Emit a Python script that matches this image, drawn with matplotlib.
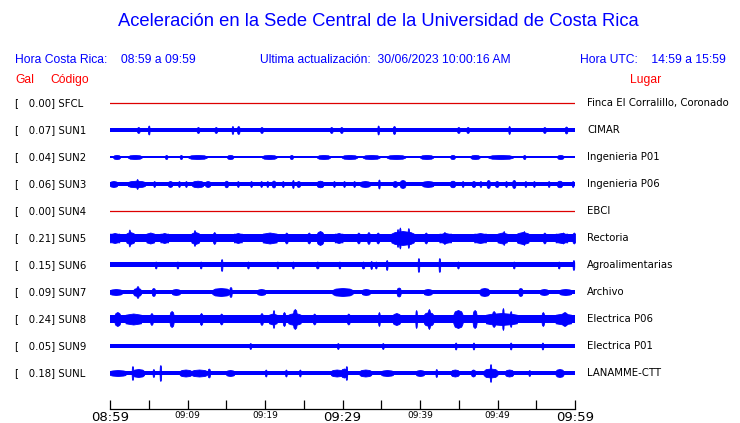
import numpy as np
import matplotlib
matplotlib.use("Agg")
import matplotlib.pyplot as plt
from matplotlib.transforms import blended_transform_factory

# estaciones, aceleracion maxima (Gal) y lugar
codigos = ["SFCL", "SUN1", "SUN2", "SUN3", "SUN4", "SUN5", "SUN6", "SUN7", "SUN8", "SUN9", "SUNL"]
gal = [0.00, 0.07, 0.04, 0.06, 0.00, 0.21, 0.15, 0.09, 0.24, 0.05, 0.18]
lugares = ["Finca El Corralillo, Coronado", "CIMAR", "Ingenieria P01", "Ingenieria P06", "EBCI",
           "Rectoria", "Agroalimentarias", "Archivo", "Electrica P06", "Electrica P01", "LANAMME-CTT"]

# semi-ancho del ruido de fondo de cada traza (px), 0 = sin señal
fondo = [0, 2.0, 0.6, 2.0, 0, 4.4, 2.5, 2.0, 4.3, 2.0, 2.0]

# picos: (minuto desde 08:59, ancho en min, semi-altura px)
picos = {
    "SUN1": [(3.5, 0.3, 3), (4.9, 0.2, 4.5), (11.2, 0.3, 3), (13.5, 0.3, 3), (15.7, 0.2, 4),
             (16.4, 0.3, 4), (19.4, 0.3, 3), (28.4, 0.3, 3), (29.7, 0.3, 3), (34.5, 0.2, 4.5),
             (36.5, 0.3, 4), (44.8, 0.3, 3), (46.0, 0.3, 3), (51.4, 0.2, 4), (55.9, 0.3, 3),
             (58.7, 0.3, 3.5)],
    "SUN2": [(0.4, 0.9, 2), (2.3, 1.8, 2), (7.1, 0.3, 2), (9.0, 0.3, 2), (10.1, 2.4, 2),
             (15.1, 0.8, 2), (19.6, 1.9, 2), (23.2, 0.4, 2), (26.7, 1.7, 2), (29.9, 2.0, 2),
             (32.6, 2.2, 2), (35.7, 2.4, 2), (40.0, 1.7, 2), (43.9, 0.6, 2), (46.5, 1.2, 2),
             (48.8, 3.2, 2), (53.3, 0.3, 2), (57.7, 0.8, 2)],
    "SUN3": [(0.0, 0.9, 3), (2.3, 2.2, 3.3), (3.4, 0.2, 5), (5.6, 0.2, 3), (7.5, 0.5, 3),
             (8.8, 0.2, 3), (9.7, 0.2, 3), (10.6, 1.4, 3.3), (12.3, 0.6, 3), (14.8, 0.4, 3.3),
             (16.4, 0.2, 3), (18.1, 0.2, 3), (19.4, 0.2, 3), (20.2, 0.2, 3), (20.9, 0.4, 3.5),
             (22.2, 0.2, 3), (23.5, 0.2, 4), (24.1, 0.4, 3), (26.7, 0.8, 3.3), (28.8, 0.2, 3),
             (30.1, 0.2, 3), (31.4, 0.2, 3), (32.3, 1.2, 3), (34.6, 0.2, 4.5), (36.5, 0.5, 3),
             (37.4, 0.7, 4), (40.3, 1.4, 3), (43.9, 0.6, 3.3), (45.4, 0.2, 3), (46.7, 0.4, 3),
             (47.7, 0.2, 3), (48.6, 0.4, 4), (49.7, 0.4, 3), (51.0, 0.2, 3), (51.9, 0.4, 4),
             (53.5, 0.2, 3), (54.6, 0.2, 3), (56.5, 0.2, 3), (57.7, 0.6, 3.3), (59.6, 0.2, 3)],
    "SUN5": [(0.0, 1.2, 5), (2.4, 0.2, 8.5), (2.1, 1.0, 6), (4.7, 1.0, 5.5), (6.5, 1.0, 5),
             (10.8, 0.2, 8), (10.5, 1.0, 6), (13.3, 0.3, 6), (16.0, 1.0, 5), (19.7, 1.8, 5.5),
             (22.6, 0.3, 5.5), (25.5, 0.3, 5.5), (26.7, 0.8, 7), (29.0, 1.0, 5), (31.9, 0.3, 5.5),
             (33.2, 0.3, 6), (34.4, 0.3, 5.5), (36.3, 2.9, 7), (37.3, 0.2, 10.5), (38.4, 0.2, 10),
             (37.0, 0.2, 9), (40.6, 0.3, 5.5), (43.0, 0.3, 6), (42.5, 1.5, 5), (47.0, 1.5, 5),
             (50.7, 0.2, 7), (50.0, 1.2, 5.5), (53.3, 0.2, 7), (52.5, 1.5, 6), (55.9, 0.3, 5.5),
             (57.5, 1.5, 5), (58.3, 0.3, 5.5), (59.7, 0.3, 5.5)],
    "SUN6": [(5.8, 0.2, 3.5), (8.6, 0.2, 3.5), (11.6, 0.2, 3.5), (14.3, 0.2, 6), (17.7, 0.2, 3.5),
             (21.5, 0.2, 3.5), (23.5, 0.2, 3.5), (26.6, 0.3, 3.5), (29.5, 0.2, 3.5), (32.5, 0.3, 3.5),
             (34.2, 0.2, 3.5), (35.6, 0.2, 5), (33.6, 0.2, 4), (39.7, 0.2, 7), (42.4, 0.2, 7),
             (44.8, 0.2, 3.5), (52.0, 0.2, 3.5), (57.8, 0.2, 3.5), (59.7, 0.2, 5)],
    "SUN7": [(0.0, 1.5, 3), (3.4, 0.3, 6), (3.0, 1.0, 4), (5.4, 0.4, 4), (8.0, 1.0, 3),
             (13.2, 2.2, 4), (15.4, 0.3, 5), (19.0, 1.0, 3), (28.7, 2.6, 4), (32.5, 1.0, 3),
             (37.0, 0.5, 4.5), (40.5, 1.0, 3), (47.7, 1.2, 4), (52.7, 0.5, 4), (55.5, 1.0, 3),
             (58.0, 1.5, 3)],
    "SUN8": [(0.6, 0.7, 7), (2.0, 2.0, 5.5), (5.2, 0.3, 6), (7.7, 0.5, 8), (11.6, 0.3, 6),
             (14.2, 0.3, 5.5), (19.4, 0.3, 6), (20.5, 1.0, 5.5), (21.0, 0.2, 9), (22.3, 0.3, 7),
             (23.0, 1.6, 6), (23.6, 0.5, 10), (26.2, 0.3, 5.5), (30.6, 0.3, 5.5), (34.6, 0.2, 7),
             (36.5, 0.9, 6), (39.4, 0.2, 9), (40.5, 1.2, 7), (41.0, 0.3, 10), (44.3, 1.2, 9),
             (46.8, 0.5, 9), (49.3, 0.4, 8), (50.6, 0.2, 11), (51.6, 0.2, 8), (48.5, 4.0, 6),
             (55.7, 0.3, 7), (58.3, 0.7, 7), (57.5, 2.0, 5.5)],
    "SUN9": [(18.0, 0.2, 3), (29.3, 0.2, 3), (35.1, 0.2, 3), (44.5, 0.2, 3.5), (46.8, 0.2, 3.5),
             (51.6, 0.2, 3.5), (55.7, 0.2, 3.5)],
    "SUNL": [(0.0, 2.0, 3), (2.9, 1.5, 4), (2.8, 0.2, 7), (5.5, 0.2, 4), (6.4, 0.2, 8),
             (9.0, 1.5, 3.5), (10.5, 2.0, 3.5), (12.6, 0.3, 4.5), (15.0, 1.0, 3), (20.0, 0.2, 3.5),
             (22.6, 0.2, 3.5), (24.4, 0.2, 3.5), (28.5, 1.5, 3.5), (30.4, 0.2, 7), (29.8, 0.8, 4.5),
             (32.2, 1.5, 3.5), (35.0, 1.5, 3), (39.5, 1.0, 3), (42.0, 0.2, 4), (44.0, 1.0, 3.5),
             (46.6, 0.5, 3.5), (49.0, 0.2, 9), (48.2, 1.8, 4.5), (51.0, 1.0, 3.5), (54.0, 0.2, 3),
             (57.5, 1.0, 4)],
}

ticks = np.arange(0, 61, 5)
etiquetas = {0: "08:59", 10: "09:09", 20: "09:19", 30: "09:29", 40: "09:39", 50: "09:49", 60: "09:59"}

azul = "#0000ff"
rojo = "#dd0000"
px = 1 / 27.0  # un pixel en unidades de fila

fig = plt.figure(figsize=(7.4, 4.23), dpi=100)
ax = fig.add_axes([110 / 740, (423 - 409) / 423, 465 / 740, 319 / 423])
ax.set_xlim(0, 60)
ax.set_ylim(-11.333, 0.481)

for i, cod in enumerate(codigos):
    y = -i
    if fondo[i] == 0:
        ax.plot([0, 60], [y, y], color=rojo, lw=0.9)
    else:
        b = fondo[i] * px
        ax.fill_between([0, 60], y - b, y + b, color=azul, lw=0)
        for t, w, h in picos.get(cod, []):
            xs = [t, t + w * 0.15, t + w * 0.5, t + w * 0.85, t + w]
            hs = np.array([b, h * px * 0.85, h * px, h * px * 0.85, b])
            ax.fill_between(xs, y - hs, y + hs, color=azul, lw=0.6, edgecolor=azul)

for s in ["top", "left", "right"]:
    ax.spines[s].set_visible(False)
ax.spines["bottom"].set_linewidth(0.9)
ax.set_yticks([])
ax.set_xticks(ticks)
ax.set_xticklabels([etiquetas.get(t, "") for t in ticks], family="DejaVu Sans")
ax.tick_params(axis="x", direction="in", length=6.5, width=0.9, pad=1.5)
for lab, t in zip(ax.get_xticklabels(), ticks):
    lab.set_fontsize(9.5 if t % 30 == 0 else 6.5)

# textos de cada fila
tr = blended_transform_factory(fig.transFigure, ax.transData)
for i, cod in enumerate(codigos):
    ax.text(15 / 740, -i, f"[   {gal[i]:.2f}] {cod}", transform=tr, fontsize=7.3,
            va="center", ha="left", family="DejaVu Sans")
    ax.text(587 / 740, -i, lugares[i], transform=tr, fontsize=7.3,
            va="center", ha="left", family="DejaVu Sans")

fuente = "Liberation Sans"
fig.text(378 / 740, 1 - 22 / 423, "Aceleración en la Sede Central de la Universidad de Costa Rica",
         color=azul, fontsize=13.2, ha="center", va="center", family=fuente)
fig.text(15 / 740, 1 - 60 / 423, "Hora Costa Rica:    08:59 a 09:59", color=azul,
         fontsize=8.7, ha="left", va="center", family=fuente)
fig.text(260 / 740, 1 - 60 / 423, "Ultima actualización:  30/06/2023 10:00:16 AM", color=azul,
         fontsize=8.7, ha="left", va="center", family=fuente)
fig.text(580 / 740, 1 - 60 / 423, "Hora UTC:    14:59 a 15:59", color=azul,
         fontsize=8.7, ha="left", va="center", family=fuente)
fig.text(15 / 740, 1 - 80 / 423, "Gal", color="red", fontsize=8.7, ha="left", va="center", family=fuente)
fig.text(50 / 740, 1 - 80 / 423, "Código", color="red", fontsize=8.7, ha="left", va="center", family=fuente)
fig.text(630 / 740, 1 - 80 / 423, "Lugar", color="red", fontsize=8.7, ha="left", va="center", family=fuente)

fig.savefig("out.png", dpi=100)
